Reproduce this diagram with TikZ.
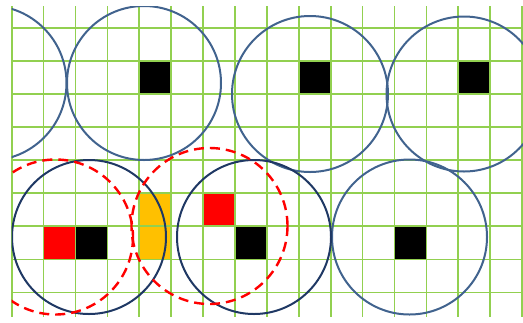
\documentclass[tikz,border=0pt]{standalone}
\usepackage{tikz}
\definecolor{gridgreen}{RGB}{146,208,80}
\definecolor{steel}{RGB}{65,99,142}
\definecolor{navy}{RGB}{31,56,100}
\definecolor{amber}{RGB}{255,192,0}
\begin{document}
\begin{tikzpicture}[x=0.75pt,y=-0.75pt]
\useasboundingbox (0,0) rectangle (523,322);
\def\gx{11.7}\def\gy{27.7}
\def\cw{31.9}\def\ch{33.1}
% filled cells: column/row/colour/height in cells
\foreach \i/\j/\col/\h in {4/1/black/1,9/1/black/1,14/1/black/1,
  1/6/red/1,2/6/black/1,4/5/amber/2,6/5/red/1,7/6/black/1,12/6/black/1}{
  \fill[\col] (\gx+\i*\cw,\gy+\j*\ch) rectangle ++(\cw,\h*\ch);
}
% grid
\foreach \i in {0,...,16}{
  \draw[gridgreen,line width=1.3pt] (\gx+\i*\cw,6) -- (\gx+\i*\cw,317);
}
\foreach \j in {0,...,8}{
  \draw[gridgreen,line width=1.3pt] (\gx,\gy+\j*\ch) -- (523,\gy+\j*\ch);
}
\begin{scope}
\clip (\gx,6) rectangle (523,317);
% coverage circles, top row
\foreach \cx/\cy/\r in {-11/83/77.5,144/83/77,310/94/78,464/94/77.5,409.5/237/77.5}{
  \draw[steel,line width=1.5pt] (\cx,\cy) circle[radius=\r];
}
% bottom row, darker
\foreach \cx/\cy in {89/237,254/237}{
  \draw[navy,line width=1.5pt] (\cx,\cy) circle[radius=77];
}
% red dashed ranges
\foreach \cx/\cy/\r in {55.5/237/77.5,209.5/226/78}{
  \draw[red,line width=1.8pt,dash pattern=on 7.5pt off 4.5pt]
    (\cx,\cy) circle[radius=\r];
}
\end{scope}
\end{tikzpicture}
\end{document}
